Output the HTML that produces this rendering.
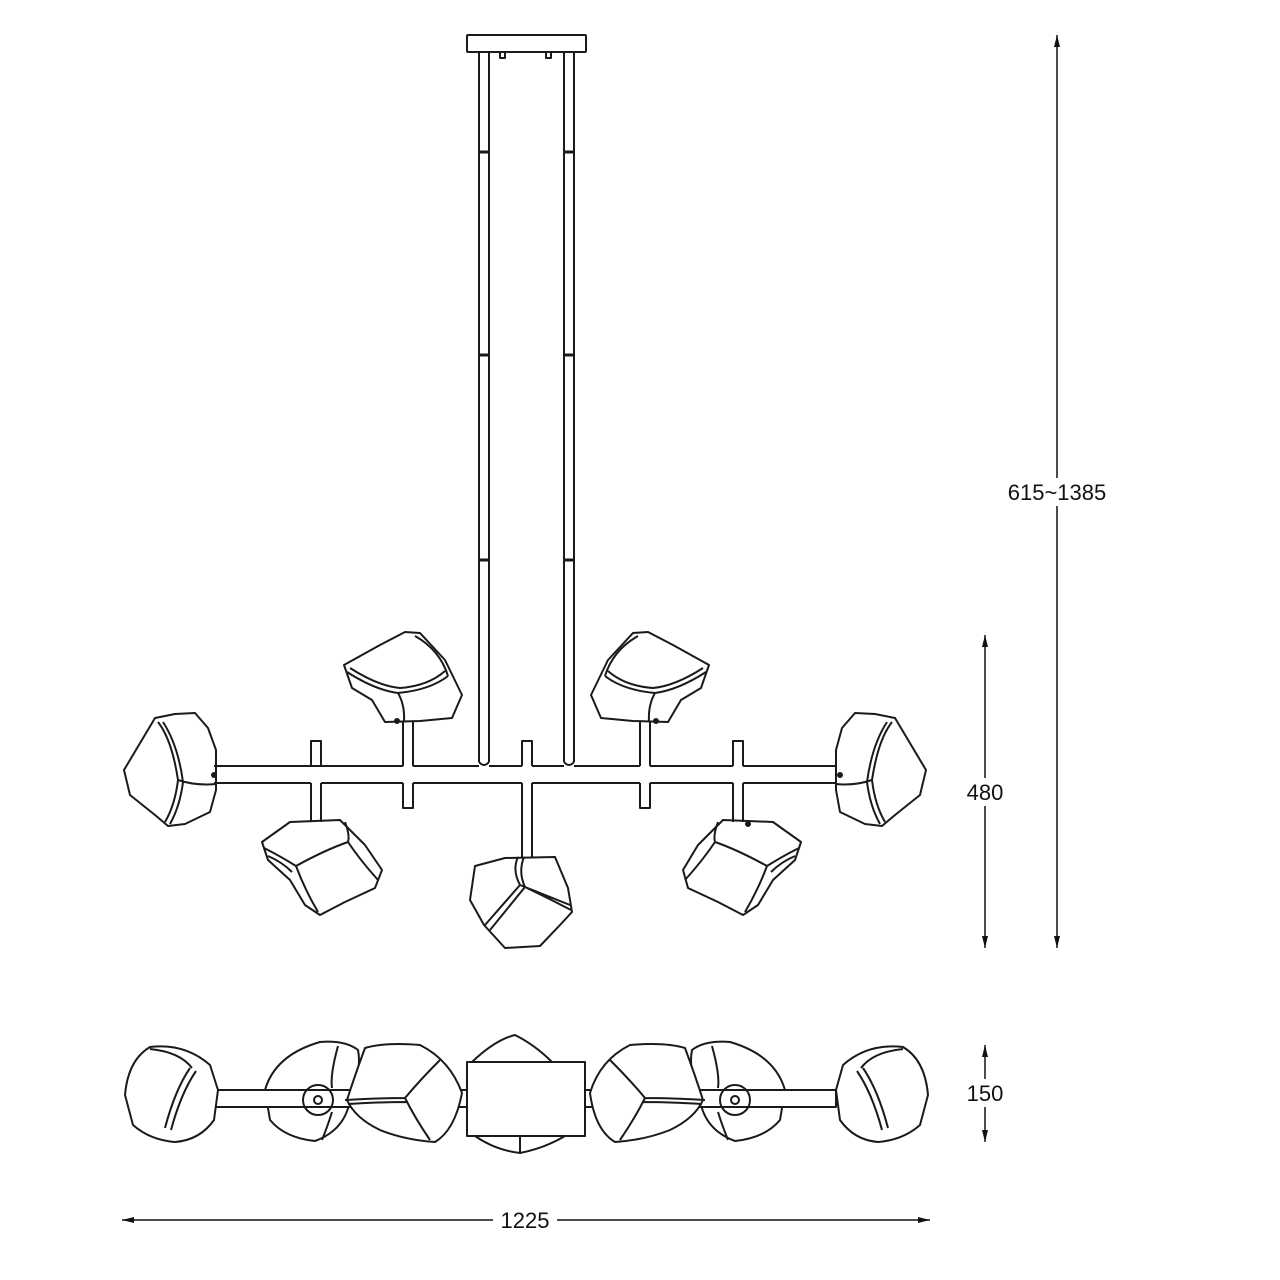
<!DOCTYPE html>
<html><head><style>
html,body{margin:0;padding:0;background:#fff;}
svg{display:block;}
text{font-family:"Liberation Sans",Arial,sans-serif;font-size:22px;fill:#111;}
</style></head><body>
<svg width="1280" height="1280" viewBox="0 0 1280 1280" xmlns="http://www.w3.org/2000/svg">
<defs>
<marker id="ar" viewBox="0 0 12 10" refX="12" refY="5" markerWidth="12" markerHeight="10" orient="auto-start-reverse" markerUnits="userSpaceOnUse"><path d="M0,2 L12,5 L0,8 Z" fill="#111"/></marker>
</defs>
<g fill="none" stroke="#1a1a1a" stroke-width="2" stroke-linejoin="round">
<!-- canopy -->
<rect x="467" y="35" width="119" height="17" rx="1"/>
<rect x="500" y="52" width="5" height="6"/><rect x="546" y="52" width="5" height="6"/>
<!-- rods -->
<path d="M479,52 V762 M489,52 V762 M564,52 V762 M574,52 V762"/>
<path d="M479,762 Q484,768 489,762 M564,762 Q569,768 574,762"/>
<g stroke-width="3"><path d="M479,152 H489 M564,152 H574 M479,355 H489 M564,355 H574 M479,560 H489 M564,560 H574"/></g>
<!-- bar -->
<path d="M214,766 H403 M413,766 H479 M489,766 H522 M532,766 H564 M574,766 H640 M650,766 H733 M743,766 H837"/>
<path d="M214,783 H311 M321,783 H403 M413,783 H522 M532,783 H640 M650,783 H733 M743,783 H837"/>
<!-- stubs -->
<path d="M311,766 V741 H321 V766 M522,766 V741 H532 V766 M733,766 V741 H743 V766"/>
<path d="M403,766 V722 M413,766 V722 M640,766 V722 M650,766 V722"/>
<path d="M403,783 V808 H413 V783 M640,783 V808 H650 V783"/>
<path d="M311,783 V822 M321,783 V822 M733,783 V822 M743,783 V822 M522,783 V857 M532,783 V857"/>
<!-- far left lamp -->
<path d="M124,770 L155,718 L175,714 L195,713 L208,728 L216,750 L216,790 L210,812 L185,824 L168,826 L155,815 L130,795 Z"/>
<path d="M158,722 Q172,740 178,780 Q175,805 165,822 M178,780 Q196,786 216,784 M163,722 Q178,745 183,782 Q180,806 170,824"/>
<circle cx="214" cy="775" r="2" fill="#1a1a1a"/>
<!-- far right lamp -->
<path d="M926,770 L895,718 L875,714 L855,713 L842,728 L836,750 L836,790 L840,812 L865,824 L882,826 L895,815 L920,795 Z"/>
<path d="M892,722 Q878,740 872,780 Q875,805 885,822 M872,780 Q854,786 836,784 M887,722 Q872,745 867,782 Q870,806 880,824"/>
<circle cx="840" cy="775" r="2" fill="#1a1a1a"/>
<!-- upper left lamp -->
<path d="M344,665 L380,645 L405,632 L420,633 L445,660 L462,695 L452,718 L420,721 L385,722 L372,700 L352,688 Z"/>
<path d="M347,672 Q375,690 398,693 Q430,690 448,676 M398,693 Q405,705 404,722 M350,668 Q378,686 400,688 Q428,686 445,671 M415,636 Q440,650 448,676"/>
<circle cx="397" cy="721" r="2" fill="#1a1a1a"/>
<!-- upper right lamp -->
<path d="M709,665 L673,645 L648,632 L633,633 L608,660 L591,695 L601,718 L633,721 L668,722 L681,700 L701,688 Z"/>
<path d="M706,672 Q678,690 655,693 Q623,690 605,676 M655,693 Q648,705 649,722 M703,668 Q675,686 653,688 Q625,686 608,671 M638,636 Q613,650 605,676"/>
<circle cx="656" cy="721" r="2" fill="#1a1a1a"/>
<!-- lower left lamp -->
<path d="M262,842 L290,822 L340,820 L365,845 L382,870 L375,888 L345,902 L320,915 L305,905 L290,880 L268,860 Z"/>
<path d="M264,848 Q280,856 296,866 Q325,850 348,842 Q360,860 378,880 M296,866 Q305,890 318,912 M268,856 Q282,862 292,872 M345,822 Q350,835 348,842"/>
<!-- lower right lamp -->
<path d="M801,842 L773,822 L723,820 L698,845 L683,870 L688,888 L718,902 L743,915 L758,905 L773,880 L795,860 Z"/>
<path d="M799,848 Q783,856 767,866 Q738,850 715,842 Q703,860 685,880 M767,866 Q758,890 745,912 M795,856 Q781,862 771,872 M718,822 Q713,835 715,842"/>
<circle cx="748" cy="824" r="2" fill="#1a1a1a"/>
<!-- center lamp -->
<path d="M475,866 L505,858 L555,857 L568,888 L572,912 L560,925 L540,946 L505,948 L484,925 L470,900 Z"/>
<path d="M518,857 Q512,870 520,885 L485,925 M520,885 Q545,895 570,905 M524,857 Q518,872 525,887 Q548,898 571,910 M525,887 L490,930"/>

<!-- bottom view -->
<path d="M472,1062 Q495,1040 515,1035 Q535,1045 552,1062"/>
<path d="M475,1136 Q495,1150 520,1153 Q545,1148 565,1136 M520,1136 V1153"/>
<!-- disk left -->
<path fill="#fff" d="M265,1090 Q275,1055 320,1042 Q345,1040 358,1050 Q362,1070 350,1100 Q345,1130 315,1141 Q285,1138 270,1120 Z"/>
<path d="M338,1046 Q330,1075 332,1088 M332,1112 Q328,1125 322,1140"/>
<!-- right disk -->
<path fill="#fff" d="M785,1090 Q775,1055 730,1042 Q705,1040 692,1050 Q688,1070 700,1100 Q705,1130 735,1141 Q765,1138 780,1120 Z"/>
<path d="M712,1046 Q720,1075 718,1088 M718,1112 Q722,1125 728,1140"/>
<!-- bar -->
<rect x="214" y="1090" width="622" height="17" fill="#fff"/>
<circle cx="318" cy="1100" r="15"/><circle cx="318" cy="1100" r="4"/>
<circle cx="735" cy="1100" r="15"/><circle cx="735" cy="1100" r="4"/>
<rect x="467" y="1062" width="118" height="74" fill="#fff"/>
<!-- far left -->
<path fill="#fff" d="M125,1095 Q128,1060 150,1047 Q185,1043 210,1065 L218,1090 L214,1120 Q200,1140 175,1142 Q150,1140 133,1125 Z"/>
<path d="M190,1068 Q175,1090 165,1128 M196,1071 Q181,1093 171,1130 M150,1049 Q180,1052 192,1068"/>
<!-- lamp 3 -->
<path fill="#fff" d="M347,1100 Q355,1075 365,1048 Q385,1042 420,1045 Q450,1060 462,1093 Q455,1130 435,1142 Q405,1140 380,1130 Q355,1118 347,1100 Z"/>
<path d="M345,1100 Q380,1098 405,1098 Q420,1080 440,1060 M405,1098 Q415,1118 430,1140 M348,1104 Q382,1102 408,1102"/>
<!-- lamp right of center -->
<path fill="#fff" d="M703,1100 Q695,1075 685,1048 Q665,1042 630,1045 Q600,1060 590,1093 Q595,1130 615,1142 Q645,1140 670,1130 Q695,1118 703,1100 Z"/>
<path d="M705,1100 Q670,1098 645,1098 Q630,1080 610,1060 M645,1098 Q635,1118 620,1140 M702,1104 Q668,1102 642,1102"/>
<!-- far right -->
<path fill="#fff" d="M928,1095 Q925,1060 903,1047 Q868,1043 843,1065 L836,1090 L840,1120 Q854,1140 878,1142 Q903,1140 920,1125 Z"/>
<path d="M863,1068 Q878,1090 888,1128 M857,1071 Q872,1093 882,1130 M903,1049 Q873,1052 861,1068"/>
</g>
<!-- dimensions -->
<g stroke="#111" stroke-width="1.5">
<line x1="1057" y1="35" x2="1057" y2="948" marker-start="url(#ar)" marker-end="url(#ar)"/>
<line x1="985" y1="635" x2="985" y2="948" marker-start="url(#ar)" marker-end="url(#ar)"/>
<line x1="985" y1="1045" x2="985" y2="1142" marker-start="url(#ar)" marker-end="url(#ar)"/>
<line x1="122" y1="1220" x2="930" y2="1220" marker-start="url(#ar)" marker-end="url(#ar)"/>
</g>
<rect x="993" y="478" width="128" height="28" fill="#fff"/>
<text x="1057" y="500" text-anchor="middle">615~1385</text>
<rect x="958" y="778" width="52" height="28" fill="#fff"/>
<text x="985" y="800" text-anchor="middle">480</text>
<rect x="958" y="1079" width="52" height="28" fill="#fff"/>
<text x="985" y="1101" text-anchor="middle">150</text>
<rect x="493" y="1206" width="64" height="28" fill="#fff"/>
<text x="525" y="1228" text-anchor="middle">1225</text>
</svg>
</body></html>
